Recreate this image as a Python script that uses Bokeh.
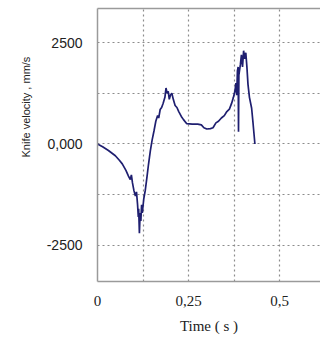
from bokeh.plotting import figure
from bokeh.models import FixedTicker, LinearAxis, Title, Range1d
from bokeh.embed import file_html
from bokeh.resources import INLINE

# Data
time_s = [0.000, 0.014, 0.030, 0.049, 0.060, 0.068, 0.078, 0.085, 0.090, 0.093,
          0.096, 0.100, 0.104, 0.107, 0.110, 0.112, 0.113, 0.115, 0.117, 0.119,
          0.121, 0.123, 0.127, 0.131, 0.136, 0.140, 0.145, 0.150, 0.155, 0.160,
          0.165, 0.168, 0.172, 0.176, 0.180, 0.185, 0.188, 0.191, 0.194, 0.197,
          0.200, 0.204, 0.208, 0.213, 0.218, 0.223, 0.230, 0.236, 0.245, 0.260,
          0.275, 0.285, 0.292, 0.300, 0.310, 0.317, 0.325, 0.332, 0.340, 0.348,
          0.355, 0.362, 0.368, 0.373, 0.377, 0.380, 0.382, 0.384, 0.386, 0.387,
          0.388, 0.392, 0.395, 0.398, 0.401, 0.404, 0.407, 0.410, 0.413, 0.417,
          0.423, 0.427, 0.432]
velocity = [0, -70, -160, -290, -400, -490, -650, -790, -880, -760,
            -960, -1150, -1280, -1180, -1500, -1800, -1600, -2200, -1700, -1900,
            -1500, -1700, -1350, -1150, -800, -500, -170, 100, 320, 560,
            700, 640, 850, 900, 1000, 1150, 1380, 1250, 1300, 1100,
            1200, 1250, 1100, 950, 900, 800, 680, 600, 500, 490,
            490, 470, 400, 370, 380, 400, 520, 560, 640, 700,
            800, 860, 1000, 1150, 1300, 1500, 1200, 1800, 1900, 300,
            1700, 1950, 2200, 1900, 2300, 2100, 2250, 1900, 1470, 1150,
            880, 500, 0]

x_ticks = [0, 0.125, 0.25, 0.375, 0.5]
x_tick_labels = ["0", "", "0,25", "", "0,5"]
y_ticks = [-2500, -1250, 0, 1250, 2500]
y_tick_labels = ["-2500", "", "0,000", "", "2500"]

frame_col = "#9a9a9a"
grid_col = "#8c8c8c"
text_col = "#222222"

p = figure(width=320, height=339, output_backend="svg", toolbar_location=None,
           x_range=Range1d(0, 0.612), y_range=Range1d(-3390, 3340),
           min_border_left=97, min_border_right=0, min_border_top=8,
           min_border_bottom=58)
p.outline_line_color = None
p.background_fill_color = "white"
p.border_fill_color = "white"

p.line(time_s, velocity, line_color="#1f1f70", line_width=1.7)

# axes
p.xaxis.ticker = FixedTicker(ticks=x_ticks)
p.xaxis.major_label_overrides = {t: l for t, l in zip(x_ticks, x_tick_labels)}
p.yaxis.ticker = FixedTicker(ticks=y_ticks)
p.yaxis.major_label_overrides = {t: l for t, l in zip(y_ticks, y_tick_labels)}

for ax in (p.xaxis[0], p.yaxis[0]):
    ax.axis_line_color = frame_col
    ax.axis_line_width = 1.5
    ax.major_tick_line_color = None
    ax.minor_tick_line_color = None
    ax.major_tick_out = 0
    ax.major_label_text_color = text_col

p.xaxis.major_label_text_font = "Liberation Serif"
p.xaxis.major_label_text_font_size = "15px"
p.xaxis.major_label_standoff = 14
p.xaxis.axis_label = "Time ( s )"
p.xaxis.axis_label_text_font = "Liberation Serif"
p.xaxis.axis_label_text_font_size = "15px"
p.xaxis.axis_label_text_font_style = "normal"
p.xaxis.axis_label_text_color = text_col
p.xaxis.axis_label_standoff = 9

p.yaxis.major_label_text_font = "Liberation Sans"
p.yaxis.major_label_text_font_size = "14px"
p.yaxis.major_label_standoff = 15

top_axis = LinearAxis(ticker=FixedTicker(ticks=[]), axis_line_color=frame_col,
                      axis_line_width=1.5, major_tick_line_color=None,
                      minor_tick_line_color=None, major_label_text_font_size="0px",
                      major_label_standoff=0, major_tick_out=0, major_tick_in=0)
p.add_layout(top_axis, "above")

ytitle = Title(text="Knife velocity , mm/s", align="left", offset=124,
               text_font="Liberation Sans", text_font_size="11px",
               text_font_style="normal", text_color=text_col, standoff=23)
p.add_layout(ytitle, "left")

# grid
p.xgrid.grid_line_color = grid_col
p.xgrid.grid_line_dash = "2 3"
p.xgrid.grid_line_width = 1.2
p.ygrid.grid_line_color = grid_col
p.ygrid.grid_line_dash = "2 3"
p.ygrid.grid_line_width = 1.2

open("out.html", "w").write(file_html(p, INLINE))
